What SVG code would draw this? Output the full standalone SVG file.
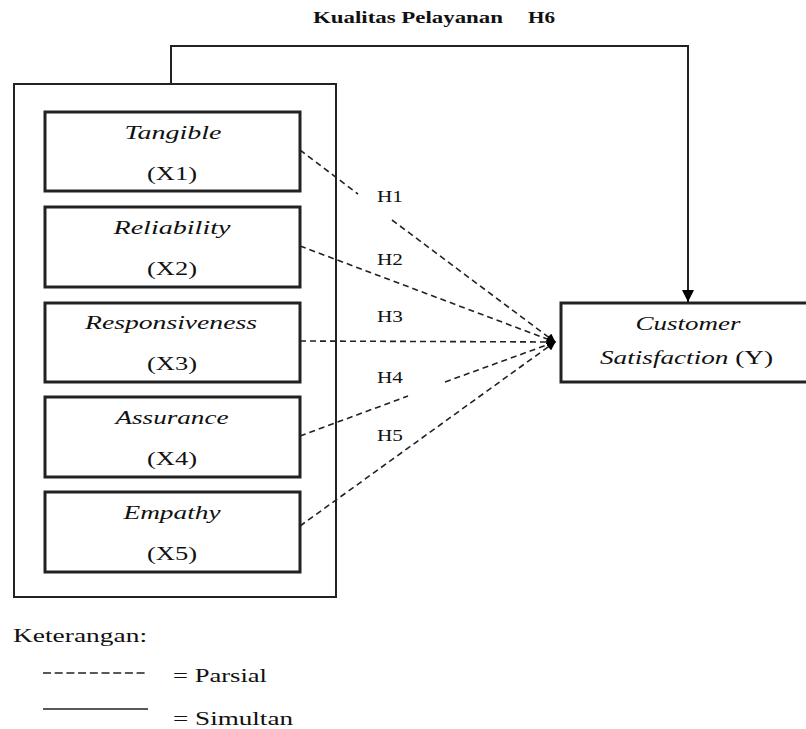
<svg xmlns="http://www.w3.org/2000/svg" width="806" height="729" viewBox="0 0 806 729" font-family="'Liberation Serif', 'Times New Roman', serif">
<defs>
<style>
.box{fill:#fff;stroke:#222;stroke-width:3}
.outer{fill:none;stroke:#222;stroke-width:2}
.t{font-family:"Liberation Serif","Times New Roman",serif;fill:#111}
.it{font-style:italic;font-size:19px}
.rg{font-size:19px}
.h{font-size:17px}
.dash{fill:none;stroke:#222;stroke-width:1.6;stroke-dasharray:6 4}
.solid{fill:none;stroke:#222;stroke-width:2}
</style>
<marker id="ah" viewBox="0 0 10 10" refX="9" refY="5" markerWidth="9" markerHeight="9" markerUnits="userSpaceOnUse" orient="auto">
<path d="M0,0 L10,5 L0,10 z" fill="#000"/>
</marker>
<marker id="ah2" viewBox="0 0 10 10" refX="10" refY="5" markerWidth="12" markerHeight="12" markerUnits="userSpaceOnUse" orient="auto">
<path d="M0,0 L10,5 L0,10 z" fill="#000"/>
</marker>
</defs>
<rect width="806" height="729" fill="#fff"/>

<text class="t" x="313" y="23" font-size="16" font-weight="bold" textLength="190" lengthAdjust="spacingAndGlyphs">Kualitas Pelayanan</text>
<text class="t" x="528" y="23" font-size="16" font-weight="bold" textLength="27" lengthAdjust="spacingAndGlyphs">H6</text>

<g id="kualitas-pelayanan">
<rect class="outer" x="14" y="84" width="322" height="513"/>
</g>

<g id="x1">
<rect class="box" x="45" y="112" width="255" height="79"/>
<text class="t it" x="173" y="139" text-anchor="middle" textLength="97" lengthAdjust="spacingAndGlyphs">Tangible</text>
<text class="t rg" x="172" y="180" text-anchor="middle" textLength="50" lengthAdjust="spacingAndGlyphs">(X1)</text>
</g>
<g id="x2">
<rect class="box" x="45" y="207" width="255" height="80"/>
<text class="t it" x="172" y="234" text-anchor="middle" textLength="117" lengthAdjust="spacingAndGlyphs">Reliability</text>
<text class="t rg" x="172" y="275" text-anchor="middle" textLength="50" lengthAdjust="spacingAndGlyphs">(X2)</text>
</g>
<g id="x3">
<rect class="box" x="45" y="303" width="255" height="79"/>
<text class="t it" x="171" y="329" text-anchor="middle" textLength="172" lengthAdjust="spacingAndGlyphs">Responsiveness</text>
<text class="t rg" x="172" y="370" text-anchor="middle" textLength="50" lengthAdjust="spacingAndGlyphs">(X3)</text>
</g>
<g id="x4">
<rect class="box" x="45" y="397" width="255" height="80"/>
<text class="t it" x="172" y="424" text-anchor="middle" textLength="113" lengthAdjust="spacingAndGlyphs">Assurance</text>
<text class="t rg" x="172" y="465" text-anchor="middle" textLength="50" lengthAdjust="spacingAndGlyphs">(X4)</text>
</g>
<g id="x5">
<rect class="box" x="45" y="492" width="255" height="80"/>
<text class="t it" x="172" y="519" text-anchor="middle" textLength="97" lengthAdjust="spacingAndGlyphs">Empathy</text>
<text class="t rg" x="172" y="560" text-anchor="middle" textLength="50" lengthAdjust="spacingAndGlyphs">(X5)</text>
</g>

<g id="y">
<rect class="box" x="561" y="303" width="260" height="79"/>
<text class="t it" x="688" y="330" text-anchor="middle" textLength="105" lengthAdjust="spacingAndGlyphs">Customer</text>
<text class="t rg" x="600" y="364" textLength="173" lengthAdjust="spacingAndGlyphs"><tspan font-style="italic">Satisfaction</tspan> (Y)</text>
</g>

<g id="connectors">
<path class="solid" d="M171,84 V46 H688 V302" marker-end="url(#ah2)"/>
<path class="dash" d="M300,150 L358,194"/>
<path class="dash" d="M392,220 L555,342" marker-end="url(#ah)"/>
<path class="dash" d="M300,246 L555,342" marker-end="url(#ah)"/>
<path class="dash" d="M300,341 L555,342" marker-end="url(#ah)"/>
<path class="dash" d="M300,436 L408,396"/>
<path class="dash" d="M445,382 L555,342" marker-end="url(#ah)"/>
<path class="dash" d="M300,526 L555,342" marker-end="url(#ah)"/>
<text class="t h" x="377" y="202" textLength="26" lengthAdjust="spacingAndGlyphs">H1</text>
<text class="t h" x="377" y="265" textLength="26" lengthAdjust="spacingAndGlyphs">H2</text>
<text class="t h" x="377" y="322" textLength="26" lengthAdjust="spacingAndGlyphs">H3</text>
<text class="t h" x="377" y="383" textLength="26" lengthAdjust="spacingAndGlyphs">H4</text>
<text class="t h" x="377" y="441" textLength="26" lengthAdjust="spacingAndGlyphs">H5</text>
</g>

<g id="legend">
<text class="t" x="13" y="642" font-size="18" textLength="134" lengthAdjust="spacingAndGlyphs">Keterangan:</text>
<line x1="43" y1="673" x2="148" y2="673" stroke="#222" stroke-width="1.3" stroke-dasharray="8 3.7"/>
<text class="t" x="173" y="682" font-size="18" textLength="94" lengthAdjust="spacingAndGlyphs">= Parsial</text>
<line x1="43" y1="709" x2="148" y2="709" stroke="#222" stroke-width="1.6"/>
<text class="t" x="173" y="725" font-size="18" textLength="120" lengthAdjust="spacingAndGlyphs">= Simultan</text>
</g>
</svg>
